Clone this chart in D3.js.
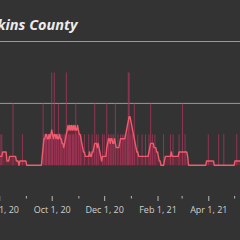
<!DOCTYPE html>
<html><head><meta charset="utf-8">
<script src="https://cdn.jsdelivr.net/npm/d3@7"></script>
<style>
html,body{margin:0;padding:0;background:#333;}
svg{display:block;}
</style></head>
<body>
<script>
const titleText = "Hopkins County";
const startDate = "2020-07-20";
// daily new cases, one value per day from startDate (by month)
const casesJul = [0,0,0,0,0,0,0,1,0,0,1,0];
const casesAug = [0,1,0,1,0,0,0,0,0,0, 0,0,0,0,0,0,2,0,0,0, 0,0,0,0,0,0,0,1,0,0, 0];
const casesSep = [0,0,0,0,0,0,0,0,0,0, 0,0,0,0,0,0,0,0,0,0, 2,1,0,1,1,0,1,1,1,0];
const casesOct = [3,1,0,3,0,1,1,0,2,0, 1,1,0,1,0,1,0,3,0,1, 1,1,1,0,1,1,1,0,2,1, 0];
const casesNov = [1,0,1,1,0,0,0,1,0,0, 0,0,1,0,0,0,1,0,0,2, 0,1,0,1,0,0,0,0,1,0];
const casesDec = [1,0,0,2,0,1,0,1,0,1, 0,1,0,2,0,0,1,0,0,1, 0,1,0,1,0,1,0,1,3,3, 0];
const casesJan = [1,0,1,0,2,0,0,0,1,0, 0,0,0,1,0,0,0,1,0,0, 0,1,0,2,0,1,0,0,1,0, 0];
const casesFeb = [0,0,0,0,0,0,0,1,0,0, 0,0,0,0,0,1,0,0,1,0, 0,0,0,0,0,1,0,0];
const casesMar = [0,2,0,0,1,0,0,0,0,0, 0,0,0,0,0,0,0,0,0,0, 0,0,0,0,0,0,0,0,0,0, 0];
const casesApr = [1,0,0,0,0,0,0,0,0,0, 0,0,1,0,0,0,0,0,1,0, 0,0,0,0,0,0,0,0,0,0];
const casesMay = [0,0,0,1,0,0,0,0,0,0];
// 7-day average (by month)
const avgJul = [0.43,0.43,0.29,0.29,0.29,0.43,0.43,0.29,0.29,0.29,0.29,0.29];
const avgAug = [0.29,0.29,0.29,0.29,0.43,0.43,0.43,0.43,0.43,0.14, 0.14,0.14,0.29,0.29,0.29,0.29,0.29,0.29,0.29,0.29, 0.14,0.14,0.14,0,0.14,0.14,0.14,0.14,0.14,0.14, 0.14];
const avgSep = [0.14,0,0,0,0,0,0,0,0,0, 0,0,0,0,0,0,0,0,0,0.29, 0.57,0.86,0.86,1.0,1.0,0.86,0.86,1.0,0.86,1.0];
const avgOct = [1.14,1.0,0.86,1.0,1.0,0.86,1.0,0.86,0.86,1.0, 0.86,0.86,0.71,0.71,0.57,0.71,0.86,1.0,1.14,1.29, 1.14,1.29,1.14,1.29,1.14,1.29,1.14,1.29,1.14,1.14, 1.29];
const avgNov = [1.14,1.0,1.0,0.86,0.71,0.57,0.43,0.43,0.29,0.29, 0.29,0.29,0.29,0.43,0.29,0.29,0.43,0.43,0.57,0.71, 0.71,0.71,0.57,0.71,0.57,0.43,0.29,0.14,0.29,0.29];
const avgDec = [0.29,0.29,0.29,0.57,0.71,0.86,0.86,0.71,0.86,0.86, 0.71,0.71,0.86,0.71,0.57,0.57,0.57,0.57,0.71,0.86, 0.86,0.86,0.86,0.86,0.86,1.0,1.14,1.29,1.43,1.57, 1.57];
const avgJan = [1.43,1.29,1.14,1.0,0.86,0.71,0.57,0.43,0.43,0.29, 0.29,0.29,0.29,0.29,0.29,0.29,0.29,0.29,0.29,0.29, 0.29,0.43,0.57,0.71,0.71,0.71,0.71,0.57,0.57,0.57, 0.43];
const avgFeb = [0.43,0.29,0.14,0.14,0,0,0,0,0.14,0.29, 0.29,0.29,0.29,0.29,0.29,0.29,0.43,0.29,0.29,0.29, 0.29,0.29,0.29,0.29,0.29,0.43,0.43,0.43];
const avgMar = [0.43,0.43,0.43,0.43,0.43,0.43,0.43,0.29,0,0, 0,0,0,0,0,0,0,0,0,0, 0,0,0,0,0,0,0,0,0,0.14, 0.14];
const avgApr = [0.14,0.14,0.14,0.14,0.14,0.14,0.14,0,0,0, 0,0,0,0,0,0,0,0,0,0, 0,0,0,0,0,0,0,0,0,0];
const avgMay = [0,0.14,0.14,0.14,0.14,0.14,0.14,0.14,0.14,0.14];
const majorTicks = ["2020-08-01","2020-10-01","2020-12-01","2021-02-01","2021-04-01"];
const minorTicks = ["2020-09-01","2020-11-01","2021-01-01","2021-03-01","2021-05-01"];
const yGrid = [2, 4];

const dailyCases = [].concat(casesJul,casesAug,casesSep,casesOct,casesNov,casesDec,casesJan,casesFeb,casesMar,casesApr,casesMay);
const avgLine = [].concat(avgJul,avgAug,avgSep,avgOct,avgNov,avgDec,avgJan,avgFeb,avgMar,avgApr,avgMay);
const parse = d3.utcParse("%Y-%m-%d");
const t0 = parse(startDate);
const days = dailyCases.map((v,i)=>({date:d3.utcDay.offset(t0,i), cases:v, avg:avgLine[i]}));

const W=240,H=240;
const svg=d3.select("body").append("svg").attr("width",W).attr("height",H);
svg.append("rect").attr("width",W).attr("height",H).attr("fill","#333");

const x=d3.scaleUtc().domain([parse("2020-10-01"),parse("2021-04-01")]).range([51.7,208.3]);
const y=d3.scaleLinear().domain([0,4]).range([165.3,41.5]);

svg.selectAll("line.grid").data(yGrid).join("line").attr("class","grid")
  .attr("x1",0).attr("x2",W).attr("y1",d=>y(d)).attr("y2",d=>y(d))
  .attr("stroke","#9a9a9a").attr("stroke-width",1);

const area=d3.area().x(d=>x(d.date)).y0(y(0)).y1(d=>y(d.avg));
svg.append("path").datum(days).attr("d",area).attr("fill","rgb(150,40,70)").attr("fill-opacity",0.5);

svg.selectAll("rect.bar").data(days.filter(d=>d.cases>0)).join("rect").attr("class","bar")
  .attr("x",d=>x(d.date)-0.5).attr("width",1)
  .attr("y",d=>y(d.cases)).attr("height",d=>y(0)-y(d.cases))
  .attr("fill","rgb(175,55,92)").attr("fill-opacity",0.75);

const line=d3.line().x(d=>x(d.date)).y(d=>y(d.avg));
svg.append("path").datum(days).attr("d",line).attr("fill","none")
  .attr("stroke","rgb(240,92,110)").attr("stroke-width",1.4).attr("stroke-linejoin","round");

const fmt=d3.utcFormat("%b %-d, %y");
const gMajor=svg.append("g").attr("transform","translate(0,196)")
  .call(d3.axisBottom(x).tickValues(majorTicks.map(parse)).tickFormat(fmt).tickSize(5).tickPadding(6));
const gMinor=svg.append("g").attr("transform","translate(0,196)")
  .call(d3.axisBottom(x).tickValues(minorTicks.map(parse)).tickFormat("").tickSize(2.5));
[gMajor,gMinor].forEach(g=>{
  g.select(".domain").remove();
  g.selectAll(".tick line").attr("stroke","#bbb");
  g.selectAll(".tick text").attr("fill","#cfcfcf").attr("font-family","'Open Sans', sans-serif").attr("font-size",9);
});

svg.append("text").attr("x",77.5).attr("y",30).attr("text-anchor","end")
  .attr("font-family","'Open Sans', sans-serif").attr("font-weight","bold").attr("font-style","italic")
  .attr("font-size",14.5).attr("fill","#ececec").text(titleText);
</script>
</body></html>
